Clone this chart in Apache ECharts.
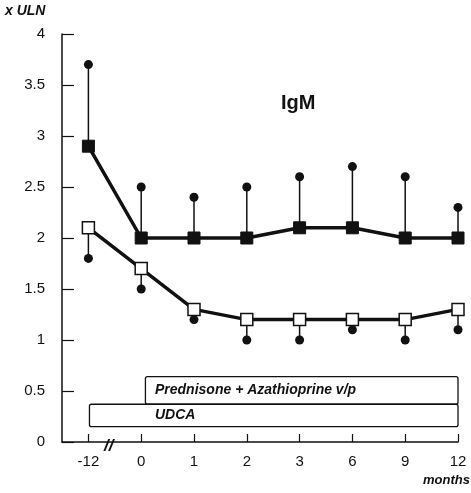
<!DOCTYPE html>
<html><head><meta charset="utf-8">
<script src="https://cdn.jsdelivr.net/npm/echarts@6/dist/echarts.min.js"></script>
<style>html,body{margin:0;padding:0;background:#fff}#c{width:471px;height:493px}</style>
</head><body><div id="c"></div>
<script>
var categories = ['-12', '0', '1', '2', '3', '6', '9', '12'];
var upperMean = [2.9, 2.0, 2.0, 2.0, 2.1, 2.1, 2.0, 2.0];
var upperErr = [3.7, 2.5, 2.4, 2.5, 2.6, 2.7, 2.6, 2.3];
var lowerMean = [2.1, 1.7, 1.3, 1.2, 1.2, 1.2, 1.2, 1.3];
var lowerErr = [1.8, 1.5, 1.2, 1.0, 1.0, 1.1, 1.0, 1.1];
var yTicks = [0, 0.5, 1, 1.5, 2, 2.5, 3, 3.5, 4];
var treatNames = ['Prednisone + Azathioprine v/p', 'UDCA'];
var treatStart = [1.08, 0.02];
var treatEnd = [7, 7];
var treatLow = [0.37, 0.15];
var treatHigh = [0.64, 0.37];

var idx = categories.map(function(_, i){ return i; });
function pts(arr){ return arr.map(function(v, i){ return [i, v]; }); }
function errData(mean, err){ return mean.map(function(v, i){ return [i, v, err[i]]; }); }

var chart = echarts.init(document.getElementById('c'));
var FONT = 'Liberation Sans, Arial, sans-serif';
chart.setOption({
  animation: false,
  grid: {left: 62, right: 13, top: 34, bottom: 51},
  xAxis: {
    type: 'value', min: -0.5, max: 7,
    axisLine: {onZero: false, lineStyle: {color: '#111', width: 1.5}},
    axisTick: {inside: true, length: 8, customValues: idx, lineStyle: {color: '#111', width: 1.2}},
    axisLabel: {customValues: idx, formatter: function(v){ return categories[Math.round(v)]; },
      color: '#111', fontSize: 15, fontFamily: FONT, margin: 12},
    splitLine: {show: false}
  },
  yAxis: {
    type: 'value', min: 0, max: 4, interval: 0.5,
    axisLine: {show: true, onZero: false, lineStyle: {color: '#111', width: 1.5}},
    axisTick: {show: true, inside: true, length: 12, customValues: yTicks, lineStyle: {color: '#111', width: 1.2}},
    axisLabel: {customValues: yTicks, color: '#111', fontSize: 15, fontFamily: FONT, margin: 17,
      formatter: function(v){ return String(v); }},
    splitLine: {show: false}
  },
  graphic: [
    {type: 'text', left: 5, top: 4, style: {text: 'x ULN', font: 'italic bold 14px ' + FONT, fill: '#111'}},
    {type: 'text', left: 281, top: 93, style: {text: 'IgM', font: 'bold 20px ' + FONT, fill: '#111'}},
    {type: 'text', left: 423, top: 474, style: {text: 'months', font: 'italic bold 13px ' + FONT, fill: '#111'}},
    {type: 'text', left: 104, top: 438, style: {text: '//', font: 'italic bold 17px ' + FONT, fill: '#111'}}
  ],
  series: [
    {
      type: 'custom', z: 1,
      data: treatNames.map(function(n, i){ return [treatStart[i], treatEnd[i], treatLow[i], treatHigh[i], i]; }),
      renderItem: function(params, api){
        var p0 = api.coord([api.value(0), api.value(3)]);
        var p1 = api.coord([api.value(1), api.value(2)]);
        var i = api.value(4);
        return {type: 'group', children: [
          {type: 'rect', shape: {x: p0[0], y: p0[1], width: p1[0]-p0[0], height: p1[1]-p0[1], r: 2},
            style: {fill: '#fff', stroke: '#111', lineWidth: 1.3}},
          {type: 'text', x: 155, y: (p0[1]+p1[1])/2,
            style: {text: treatNames[i], font: 'italic bold 14px ' + FONT, fill: '#111', textVerticalAlign: 'middle'}}
        ]};
      }
    },
    {
      type: 'custom', z: 2,
      data: errData(upperMean, upperErr).concat(errData(lowerMean, lowerErr)),
      renderItem: function(params, api){
        var a = api.coord([api.value(0), api.value(1)]);
        var b = api.coord([api.value(0), api.value(2)]);
        return {type: 'line', shape: {x1: a[0], y1: a[1], x2: b[0], y2: b[1]}, style: {stroke: '#111', lineWidth: 1.5}};
      }
    },
    {type: 'scatter', z: 3, data: pts(upperErr), symbol: 'circle', symbolSize: 9, itemStyle: {color: '#111', opacity: 1}},
    {type: 'scatter', z: 3, data: pts(lowerErr), symbol: 'circle', symbolSize: 9, itemStyle: {color: '#111', opacity: 1}},
    {type: 'line', z: 4, data: pts(upperMean), symbol: 'rect', symbolSize: 12,
      lineStyle: {color: '#111', width: 3.5}, itemStyle: {color: '#111', borderColor: '#111'}},
    {type: 'line', z: 4, data: pts(lowerMean), symbol: 'rect', symbolSize: 12,
      lineStyle: {color: '#111', width: 3.5}, itemStyle: {color: '#fff', borderColor: '#111', borderWidth: 1.5}}
  ]
});
</script></body></html>
